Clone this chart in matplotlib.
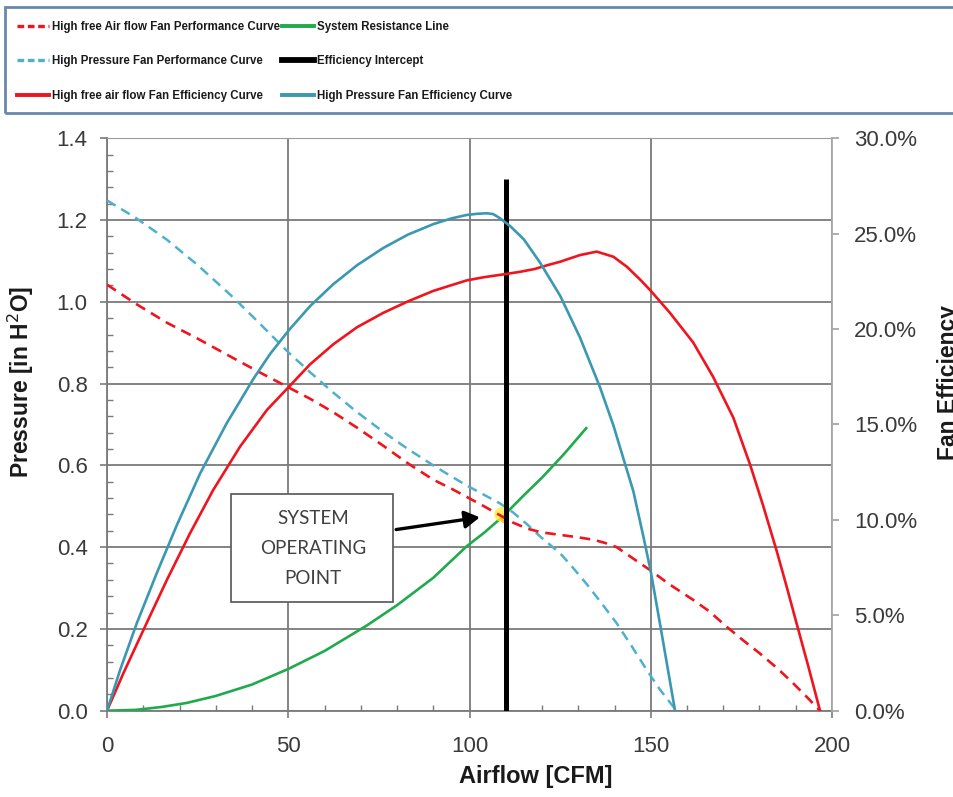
import matplotlib
matplotlib.use("Agg")
import matplotlib.pyplot as plt
from matplotlib.lines import Line2D
from matplotlib.patches import Rectangle, FancyArrowPatch
from matplotlib.ticker import MultipleLocator, FuncFormatter
from matplotlib import font_manager

# ---------------- data ----------------
hf_perf_x = [0, 8, 16.5, 25, 34.9, 42, 50.2, 56, 62.4, 69, 76.2, 83, 90, 95, 99.2, 104, 108.4, 112, 116, 120,
             125, 130, 134.2, 137.5, 140.6, 145, 149.8, 155, 161.7, 166, 171, 175.5, 180.1, 185, 189.3, 193, 196.7]
hf_perf_y = [1.042, 0.995, 0.949, 0.91, 0.862, 0.828, 0.79, 0.763, 0.73, 0.692, 0.648, 0.605, 0.565, 0.543, 0.523,
             0.5, 0.478, 0.46, 0.445, 0.436, 0.43, 0.424, 0.418, 0.41, 0.40, 0.373, 0.344, 0.31, 0.271, 0.244,
             0.205, 0.172, 0.14, 0.103, 0.067, 0.034, 0.0]

hp_perf_x = [0, 8, 16.5, 25, 34.9, 42, 50.2, 56, 62.4, 69, 76.2, 83, 90, 95, 99.2, 104, 108.4, 112, 116, 120,
             125, 128.5, 132.3, 136.5, 140.6, 144.8, 148.9, 152.5, 156.2, 157.2]
hp_perf_y = [1.248, 1.205, 1.152, 1.09, 1.01, 0.948, 0.875, 0.828, 0.778, 0.73, 0.682, 0.64, 0.6, 0.573, 0.551,
             0.528, 0.507, 0.485, 0.455, 0.422, 0.385, 0.35, 0.31, 0.262, 0.214, 0.157, 0.0995, 0.052, 0.01, 0.0]

hf_eff_x = [0, 4.5, 10.9, 16.5, 22.9, 29.3, 36.7, 44.1, 50.2, 56, 62.4, 69, 76.2, 83, 90, 95, 99.2, 104, 108.4,
            113.9, 118, 121.5, 125, 130.5, 135.1, 139.7, 143.4, 147.2, 149.8, 155.3, 161.7, 167.2, 172.8, 177.4,
            181, 184.7, 187.5, 190.2, 193.5, 196.7]
hf_eff_y = [0, 1.96, 4.58, 6.85, 9.3, 11.57, 13.84, 15.76, 16.98, 18.15, 19.2, 20.1, 20.85, 21.45, 22.0, 22.3,
            22.55, 22.72, 22.84, 23.0, 23.15, 23.35, 23.53, 23.88, 24.06, 23.79, 23.27, 22.57, 22.05, 20.85,
            19.3, 17.5, 15.35, 12.9, 10.75, 8.4, 6.5, 4.6, 2.3, 0]

hp_eff_x = [0, 3.6, 8.2, 13.7, 19.2, 25.7, 33.0, 40.4, 45, 50.2, 56, 62.4, 69, 76.2, 83, 90, 95, 99.2, 102, 104.7,
            106.5, 108.4, 111.2, 115, 119.4, 125, 130.5, 136, 139.7, 142.4, 145.2, 148, 150, 152.6, 156.7]
hp_eff_y = [0, 2.13, 4.58, 7.2, 9.7, 12.44, 15.06, 17.4, 18.7, 19.95, 21.2, 22.35, 23.35, 24.25, 24.95, 25.5,
            25.8, 25.98, 26.04, 26.07, 26.03, 25.81, 25.4, 24.7, 23.5, 21.75, 19.55, 16.95, 14.95, 13.25, 11.5,
            9.1, 7.3, 4.5, 0]

sys_x = [0, 8, 15, 22, 30, 40, 50, 60, 71.6, 80, 90, 99.2, 104, 109.2, 115, 120, 126, 132.2]
sys_y = [0, 0.002, 0.009, 0.019, 0.036, 0.064, 0.102, 0.146, 0.208, 0.258, 0.325, 0.402, 0.435, 0.475, 0.527,
         0.57, 0.627, 0.691]

intercept_x = [110, 110]
intercept_y = [0.0, 1.30]

operating_point = (108.8, 0.48)

labels = ["High free Air flow Fan Performance Curve",
          "High Pressure Fan Performance Curve",
          "High free air flow Fan Efficiency Curve",
          "System Resistance Line",
          "Efficiency Intercept",
          "High Pressure Fan Efficiency Curve"]

# ---------------- style ----------------
RED = "#f0141e"
LBLUE = "#4fb0cc"
TEAL = "#3a98b0"
GREEN = "#1fab4c"
GRID = "#7a7a7a"
TXT = "#3a3a3a"

def has_font(name):
    try:
        font_manager.findfont(font_manager.FontProperties(family=name), fallback_to_default=False)
        return True
    except Exception:
        return False

BASE = "Liberation Sans" if has_font("Liberation Sans") else "DejaVu Sans"
plt.rcParams["font.family"] = [BASE, "DejaVu Sans"]

fig = plt.figure(figsize=(9.54, 7.97), dpi=100)
fig.patch.set_facecolor("white")

ax = fig.add_axes([0.1122, 0.1083, 0.7599, 0.7182])
ax2 = ax.twinx()

# main curves
ax.plot(sys_x, sys_y, color=GREEN, lw=1.9, zorder=3)
ax.plot(hp_perf_x, hp_perf_y, color=LBLUE, lw=1.8, ls=(0, (4, 2.6)), zorder=4)
ax.plot(hf_perf_x, hf_perf_y, color=RED, lw=1.9, ls=(0, (4, 2.6)), zorder=4)
ax.scatter([operating_point[0]], [operating_point[1]], s=110, color="#ffee33", alpha=0.8, zorder=3.5, linewidths=0)
ax.scatter([operating_point[0] + 0.8], [operating_point[1] - 0.012], s=30, color="#ffb020", alpha=0.8,
           zorder=3.6, linewidths=0)
ax.plot(intercept_x, intercept_y, color="black", lw=3.6, zorder=6, solid_capstyle="butt")

ax2.plot(hf_eff_x, hf_eff_y, color=RED, lw=1.9, zorder=4)
ax2.plot(hp_eff_x, hp_eff_y, color=TEAL, lw=1.9, zorder=4)

# axes limits / ticks
ax.set_xlim(0, 200)
ax.set_ylim(0, 1.4)
ax2.set_ylim(0, 30)

ax.xaxis.set_major_locator(MultipleLocator(50))
ax.xaxis.set_minor_locator(MultipleLocator(10))
ax.yaxis.set_major_locator(MultipleLocator(0.2))
ax.yaxis.set_minor_locator(MultipleLocator(0.04))
ax.yaxis.set_major_formatter(FuncFormatter(lambda v, p: f"{v:.1f}"))
ax2.yaxis.set_major_locator(MultipleLocator(5))
ax2.yaxis.set_major_formatter(FuncFormatter(lambda v, p: f"{v:.1f}%"))

ax.grid(True, which="major", color=GRID, lw=1.3)
ax.set_axisbelow(True)

ax.tick_params(axis="x", which="major", direction="out", length=5, width=1.2, color=GRID,
               labelsize=16, labelcolor=TXT, pad=13)
ax.tick_params(axis="x", which="minor", direction="in", length=4, width=1.0, color=GRID)
ax.tick_params(axis="y", which="major", direction="out", length=5, width=1.2, color=GRID,
               labelsize=16, labelcolor=TXT, pad=9)
ax.tick_params(axis="y", which="minor", direction="in", length=4, width=1.0, color=GRID)
ax2.tick_params(axis="y", which="major", direction="out", length=5, width=1.2, color="#a0a0a0",
                labelsize=16, labelcolor=TXT, pad=11)

for sp in ["left", "bottom"]:
    ax.spines[sp].set_color(GRID)
    ax.spines[sp].set_linewidth(1.3)
ax.spines["top"].set_color("#9a9a9a")
ax.spines["right"].set_visible(False)
ax2.spines["right"].set_color("#a8a8a8")
ax2.spines["right"].set_linewidth(1.3)
for sp in ["left", "bottom", "top"]:
    ax2.spines[sp].set_visible(False)

# annotation box
ax.add_patch(Rectangle((34.3, 0.266), 44.7, 0.265, facecolor="white", edgecolor="#555555",
                       lw=1.2, zorder=7))
ax.text(56.9, 0.397, "SYSTEM\nOPERATING\nPOINT", ha="center", va="center", fontsize=13.5,
        color="#404040", family=["Lato", "DejaVu Sans"], linespacing=1.95, zorder=8)
ax.add_patch(FancyArrowPatch((79.0, 0.442), (103.6, 0.474), arrowstyle="-|>,head_length=6,head_width=3.5",
                             mutation_scale=1.5, color="black", lw=2.4, zorder=8))

# axis labels
fig.text(0.022, 0.5207, "Pressure [in H$^2$O]", rotation=90, ha="center", va="center",
         fontsize=16.5, fontweight="bold", color="#1a1a1a")
fig.text(0.982, 0.5207, "Fan Efficiency", rotation=90, ha="left", va="center",
         fontsize=16.5, fontweight="bold", color="#1a1a1a")
fig.text(0.5618, 0.026, "Airflow [CFM]", ha="center", va="center",
         fontsize=17, fontweight="bold", color="#1a1a1a")

# legend
fig.add_artist(Rectangle((5 / 954, 1 - 113 / 797), 1.0, 106 / 797, transform=fig.transFigure,
                         facecolor="none", edgecolor="#6a88aa", lw=2.0))
h_col1 = [Line2D([], [], color=RED, lw=2.4, ls=(0, (2.0, 1.1))),
          Line2D([], [], color=LBLUE, lw=2.4, ls=(0, (2.0, 1.1))),
          Line2D([], [], color=RED, lw=2.8)]
h_col2 = [Line2D([], [], color=GREEN, lw=2.8),
          Line2D([], [], color="black", lw=4.2),
          Line2D([], [], color=TEAL, lw=2.8)]
legkw = dict(loc="upper left", frameon=False, handlelength=2.8, handletextpad=0.2,
             labelspacing=1.95, borderaxespad=0, borderpad=0,
             prop=dict(family=BASE, weight="bold", size=8.3))
leg1 = fig.legend(h_col1, labels[:3], bbox_to_anchor=(17 / 954, 1 - 21 / 797), **legkw)
leg2 = fig.legend(h_col2, labels[3:], bbox_to_anchor=(282 / 954, 1 - 21 / 797), **legkw)
for lg in (leg1, leg2):
    for t in lg.get_texts():
        t.set_color("#1a1a1a")

fig.savefig("out.png", dpi=100, facecolor="white")
